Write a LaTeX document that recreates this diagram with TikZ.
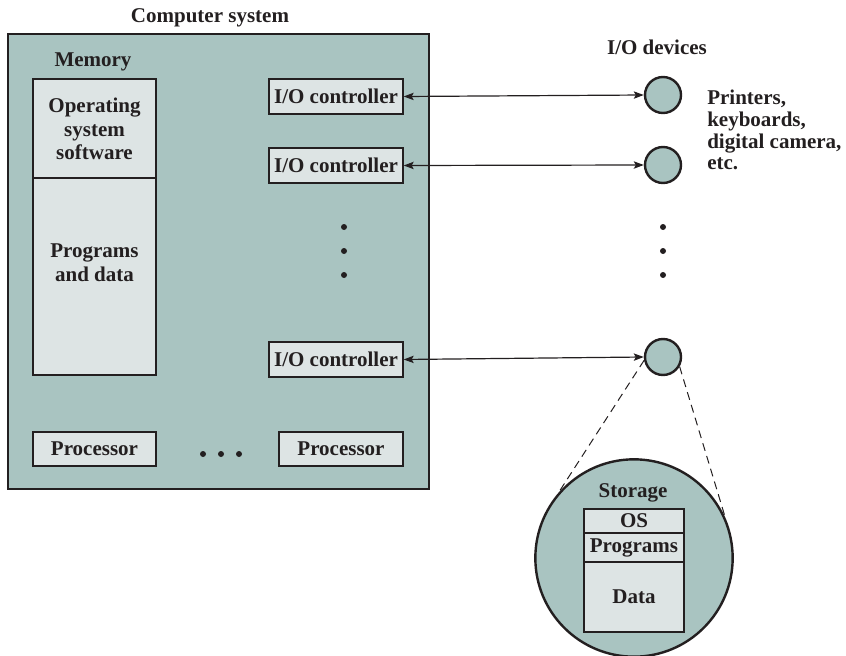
\documentclass[tikz,border=0pt]{standalone}
\usepackage{fontspec}
\setmainfont{Liberation Serif}
\usetikzlibrary{fit,arrows.meta}
\definecolor{tealfill}{RGB}{169,196,193}
\definecolor{palefill}{RGB}{221,228,228}
\definecolor{ink}{RGB}{35,31,32}
\begin{document}
\begin{tikzpicture}[x=0.75pt,y=-0.75pt,
  font=\bfseries\fontsize{15.75}{17}\selectfont, text=ink,
  sysbox/.style={draw=ink, line width=2.2pt, fill=tealfill, inner sep=0pt},
  pbox/.style={draw=ink, line width=1pt, fill=palefill, inner sep=0pt},
  dev/.style={circle, draw=ink, line width=1.8pt, fill=tealfill, minimum size=27pt, inner sep=0pt},
  bigdev/.style={circle, draw=ink, line width=1.8pt, fill=tealfill, minimum size=148pt, inner sep=0pt},
  dotmark/.style={circle, fill=ink, minimum size=4.5pt, inner sep=0pt},
  lbl/.style={align=center, inner sep=0pt},
  link/.style={{Stealth[length=7.5pt,width=5.5pt,inset=1.5pt]}-{Stealth[length=7.5pt,width=5.5pt,inset=1.5pt]}, line width=0.9pt, draw=ink},
  zoomline/.style={dashed, dash pattern=on 6pt off 4pt, line width=0.75pt, draw=ink}
]
\useasboundingbox (0,0) rectangle (846,656);

% computer system
\node[lbl] (systitle) at (210,18) {Computer system};
\node[sysbox, fit={(8,34) (429,489)}] (sys) {};
\node[lbl] (memtitle) at (93,62) {Memory};
\node[pbox, fit={(33,79) (156,178)}] (osbox) {};
\node[lbl, font=\bfseries\fontsize{15.75}{17.5}\selectfont] (ostext) at (94.5,129) {Operating\\system\\software};
\node[pbox, fit={(33,178) (156,375)}] (pdbox) {};
\node[lbl, font=\bfseries\fontsize{15.75}{18}\selectfont] (pdtext) at (94.5,263) {Programs\\and data};

\node[pbox, fit={(269,79) (403,114)}] (io1) {};
\node[lbl] at (io1.center) {I/O controller};
\node[pbox, fit={(269,148) (403,183)}] (io2) {};
\node[lbl] at (io2.center) {I/O controller};
\node[pbox, fit={(269,342) (403,377)}] (io3) {};
\node[lbl] at (io3.center) {I/O controller};

\node[dotmark] (vd1) at (344,227) {};
\node[dotmark] (vd2) at (344,251) {};
\node[dotmark] (vd3) at (344,275) {};

\node[pbox, fit={(33,432) (156,466)}] (cpu1) {};
\node[lbl] at (cpu1.center) {Processor};
\node[pbox, fit={(279,432) (403,466)}] (cpu2) {};
\node[lbl] at (cpu2.center) {Processor};
\node[dotmark] (hd1) at (203,454) {};
\node[dotmark] (hd2) at (221,454) {};
\node[dotmark] (hd3) at (239,454) {};

% I/O devices
\node[lbl] (devtitle) at (657,47) {I/O devices};
\node[dev] (dev1) at (663,95) {};
\node[dev] (dev2) at (663,165) {};
\node[dev] (dev3) at (663,357) {};
\node[dotmark] (rd1) at (663,227) {};
\node[dotmark] (rd2) at (663,251) {};
\node[dotmark] (rd3) at (663,275) {};
\node[lbl, align=left, anchor=west, font=\bfseries\fontsize{15.75}{16.3}\selectfont] (devtext) at (707,130) {Printers,\\keyboards,\\digital camera,\\etc.};

\draw[link] (io1.east) -- (dev1.west);
\draw[link] (io2.east) -- (dev2.west);
\draw[link] (io3.east) -- (dev3.west);

% storage
\node[bigdev] (store) at (634,558) {};
\draw[zoomline] (dev3.190) -- (store.139);
\draw[zoomline] (dev3.330) -- (store.24);
\node[lbl] (storetitle) at (633,493) {Storage};
\node[pbox, fit={(584,509) (684,533)}] (sos) {};
\node[lbl] at (sos.center) {OS};
\node[pbox, fit={(584,533) (684,562)}] (sprog) {};
\node[lbl] at (sprog.center) {Programs};
\node[pbox, fit={(584,562) (684,632)}] (sdata) {};
\node[lbl] at (sdata.center) {Data};
\end{tikzpicture}
\end{document}
